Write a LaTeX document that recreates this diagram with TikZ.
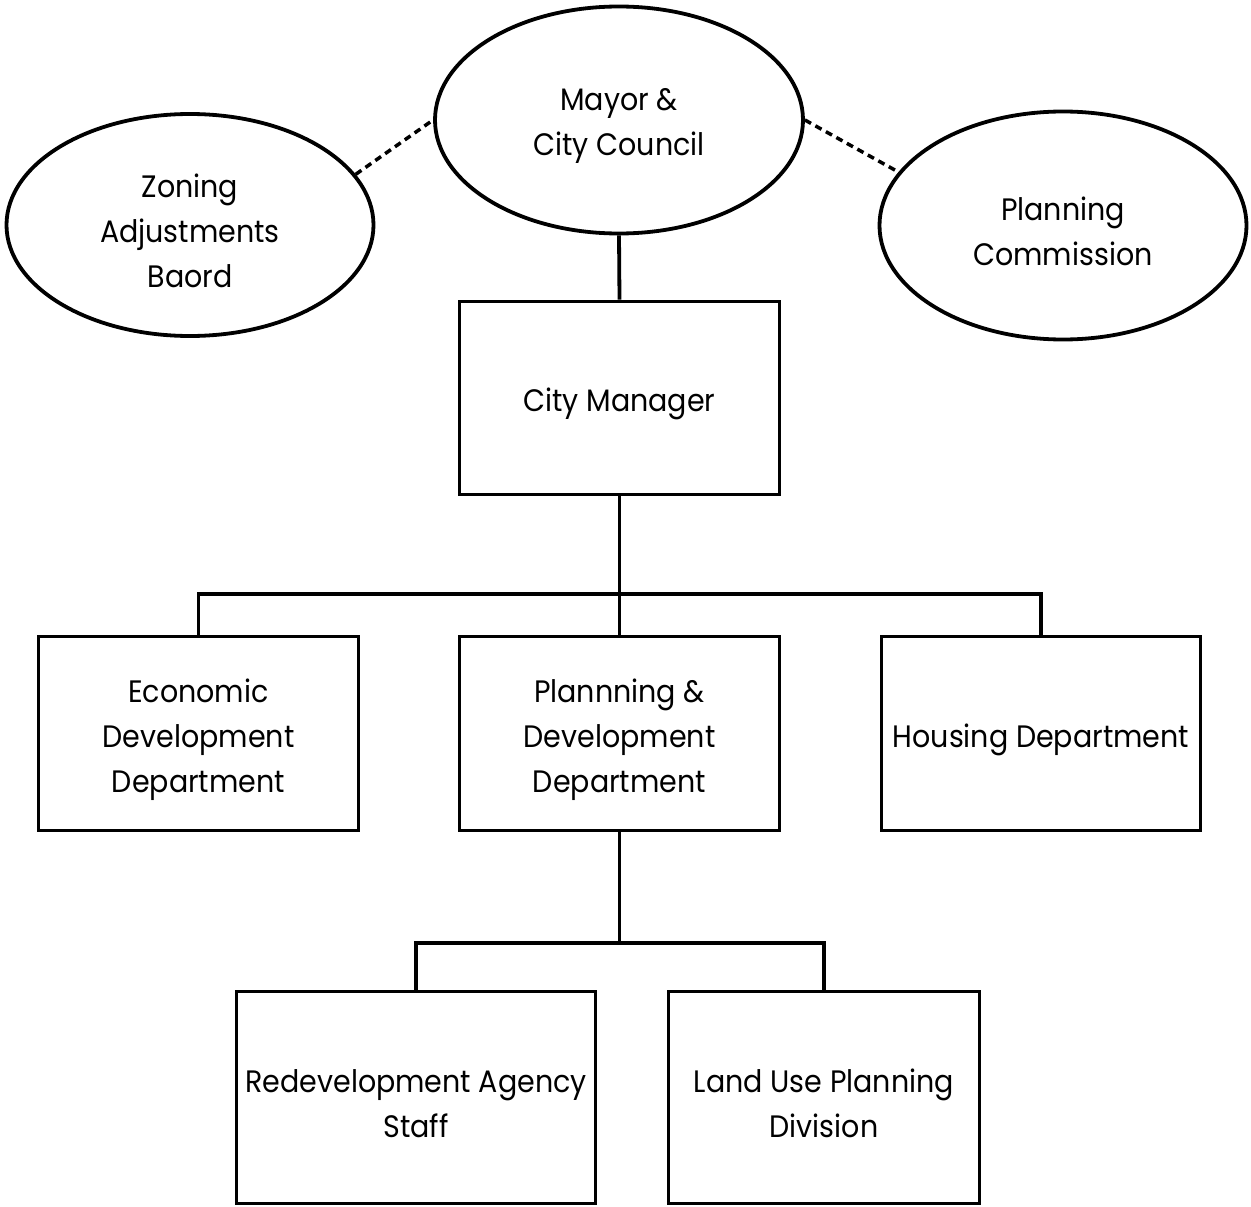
\documentclass[tikz,border=0pt]{standalone}
\usepackage{fontspec}
\setmainfont{Poppins}[FakeStretch=0.92]
\usetikzlibrary{shapes.geometric}
\begin{document}
\begin{tikzpicture}[x=1pt,y=-1pt,
  every node/.style={inner sep=0pt},
  txt/.style={align=center, font=\fontsize{31}{45}\selectfont, yshift=-6pt},
  oval/.style={draw, line width=3.8pt, ellipse},
  box/.style={draw, line width=3.8pt, rectangle},
  link/.style={line width=3.8pt},
  dotlink/.style={line width=3.5pt, dash pattern=on 7pt off 5pt}]
\useasboundingbox (0,0) rectangle (1251,1207);
\node[oval, minimum width=368pt, minimum height=227pt, label={[txt]center:Mayor \&\\City Council}] (mayor) at (619,120) {};
\node[oval, minimum width=367pt, minimum height=222pt, label={[txt]center:Zoning\\Adjustments\\Baord}] (zab) at (190,225) {};
\node[oval, minimum width=367pt, minimum height=228pt, label={[txt]center:Planning\\Commission}] (pc) at (1063,225.5) {};
\node[box, minimum width=320pt, minimum height=193pt, label={[txt]center:City Manager}] (cm) at (619.5,398) {};
\node[box, minimum width=320pt, minimum height=194pt, label={[txt]center:Economic\\Development\\Department}] (ed) at (198.5,733.5) {};
\node[box, minimum width=320pt, minimum height=194pt, label={[txt]center:Plannning \&\\Development\\Department}] (pd) at (619.5,733.5) {};
\node[box, minimum width=319pt, minimum height=194pt, label={[txt]center:Housing Department}] (hd) at (1041,733.5) {};
\node[box, minimum width=359pt, minimum height=212pt, label={[txt]center:Redevelopment Agency\\Staff}] (ra) at (416,1097.5) {};
\node[box, minimum width=311pt, minimum height=212pt, label={[txt]center:Land Use Planning\\Division}] (lu) at (824,1097.5) {};
\coordinate (bus1) at (619.5,594);
\coordinate (bus2) at (619.5,943);
\draw[dotlink] (zab.17) -- (mayor.west);
\draw[dotlink] (mayor.east) -- (pc.162);
\draw[link] (mayor.south) -- (cm.north);
\draw[link] (cm.south) -- (pd.north);
\draw[link] (ed.north) |- (bus1) -| (hd.north);
\draw[link] (pd.south) -- (bus2);
\draw[link] (ra.north) |- (bus2) -| (lu.north);
\end{tikzpicture}
\end{document}
